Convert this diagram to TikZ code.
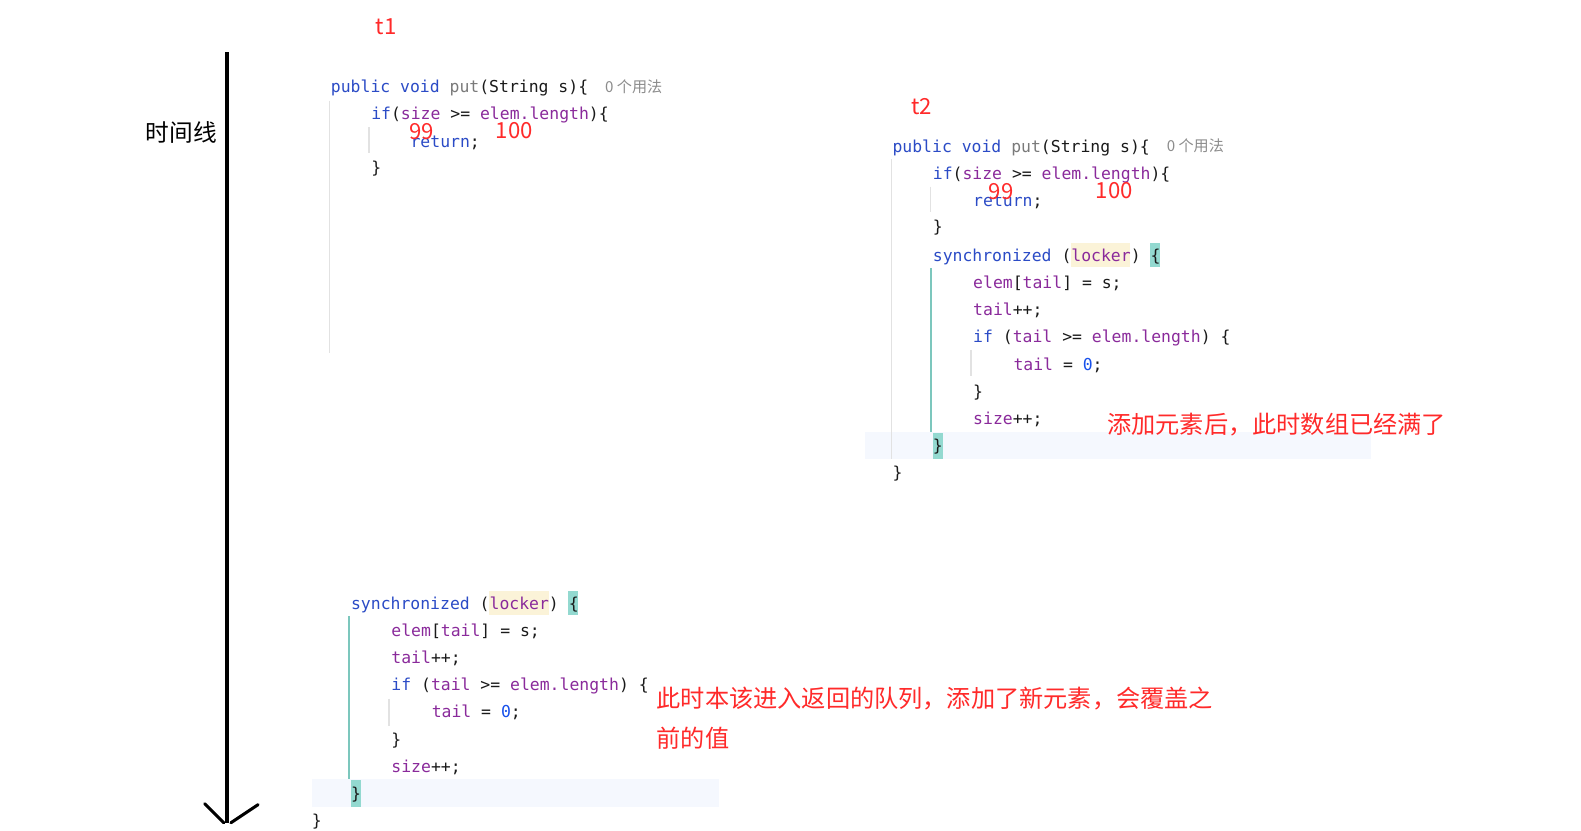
\documentclass[tikz,border=0pt]{standalone}
\usepackage{fontspec}
\newfontfamily\cjk{Noto Sans CJK SC}
\newfontfamily\codefont{DejaVu Sans Mono}
\definecolor{kwc}{HTML}{2B4BC6}
\definecolor{fdc}{HTML}{8A2A9B}
\definecolor{txc}{HTML}{1A1A1A}
\definecolor{gyc}{HTML}{7A7A7A}
\definecolor{nmc}{HTML}{1750EB}
\definecolor{cmc}{HTML}{8C8C8C}
\definecolor{lockbg}{HTML}{FBF3D8}
\definecolor{bracebg}{HTML}{93D9D0}
\definecolor{rowbg}{HTML}{F5F8FE}
\definecolor{tealguide}{HTML}{7CC7BD}
\definecolor{grayguide}{HTML}{E2E2E2}
\definecolor{redc}{HTML}{FF2A2A}
\newcommand\kwd[1]{\textcolor{kwc}{#1}}
\newcommand\fld[1]{\textcolor{fdc}{#1}}
\newcommand\gry[1]{\textcolor{gyc}{#1}}
\newcommand\num[1]{\textcolor{nmc}{#1}}
\tikzset{
  code/.style={inner sep=0pt, anchor=base west, text=txc, font=\codefont\fontsize{16.3}{20}\selectfont},
  usage/.style={inner sep=0pt, anchor=base west, text=cmc, font=\cjk\fontsize{15}{17}\selectfont},
  redtxt/.style={inner sep=0pt, text=redc, font=\cjk\fontsize{22}{26}\selectfont},
  note/.style={inner sep=0pt, anchor=west, text=redc, font=\cjk\fontsize{24}{28}\selectfont},
  gguide/.style={draw=grayguide, line width=1.5pt},
  tguide/.style={draw=tealguide, line width=2pt},
}
\begin{document}
\begin{tikzpicture}[x=1pt,y=-1pt]
\useasboundingbox (0,0) rectangle (1568,824);
\fill[white] (0,0) rectangle (1568,824);

% ---------- time line ----------
\draw[line width=3.5pt, black] (225,52) -- (225,816);
\draw[line width=3pt, black, line cap=round] (203,797) -- (222,816);
\draw[line width=3pt, black, line cap=round] (256,798) -- (229,816);
\node[inner sep=0pt, text=black, font=\cjk\fontsize{23.5}{27}\selectfont] (timelabel) at (180,131) {时间线};

% ---------- t1 ----------
\node[redtxt] (t1) at (383,27) {t1};
\draw[gguide] (327,100) -- (327,350);
\draw[gguide] (366,126) -- (366,152);
\node[code] (a1) at (328,92) {\kwd{public void} \gry{put}(String s)\{};
\node[usage] (a1u) at (600,91.5) {0 个用法};
\node[code] (a2) at (368,119) {\kwd{if}(\fld{size} >= \fld{elem.length})\{};
\node[code] (a3) at (407,146) {\kwd{return};};
\node[code] (a4) at (368,172) {\}};
\node[redtxt] (n99a) at (418,131) {99};
\node[redtxt] (n100a) at (510,130) {100};

% ---------- t2 ----------
\node[redtxt] (t2) at (914,106) {t2};
\fill[rowbg] (858,428) rectangle (1360,455);
\fill[lockbg] (1062,241) rectangle (1121,265);
\fill[bracebg] (1140.6,241) rectangle (1150.6,265);
\fill[bracebg] (925,429) rectangle (935,455);
\draw[gguide] (884,158) -- (884,455);
\draw[gguide] (923,185) -- (923,210);
\draw[tguide] (923,266) -- (923,428);
\draw[gguide] (963,347) -- (963,373);
\node[code] (b1) at (885,151) {\kwd{public void} \gry{put}(String s)\{};
\node[usage] (b1u) at (1157,150.5) {0 个用法};
\node[code] (b2) at (925,178) {\kwd{if}(\fld{size} >= \fld{elem.length})\{};
\node[code] (b3) at (965,205) {\kwd{return};};
\node[code] (b4) at (925,231) {\}};
\node[code] (b5) at (925,259) {\kwd{synchronized} (\fld{locker}) \{};
\node[code] (b6) at (965,286) {\fld{elem}[\fld{tail}] = s;};
\node[code] (b7) at (965,313) {\fld{tail}++;};
\node[code] (b8) at (965,340) {\kwd{if} (\fld{tail} >= \fld{elem.length}) \{};
\node[code] (b9) at (1005,367) {\fld{tail} = \num{0};};
\node[code] (b10) at (965,394) {\}};
\node[code] (b11) at (965,421) {\fld{size}++;};
\node[code] (b12) at (925,448) {\}};
\node[code] (b13) at (885,475) {\}};
\node[redtxt] (n99b) at (993,190) {99};
\node[redtxt] (n100b) at (1105,189) {100};
\node[note] (noteb) at (1098,421) {添加元素后，此时数组已经满了};

% ---------- t1 continued ----------
\fill[rowbg] (309,773) rectangle (713,800);
\fill[lockbg] (485,586) rectangle (544,610);
\fill[bracebg] (563.6,586) rectangle (573.6,610);
\fill[bracebg] (348,774) rectangle (358,800);
\draw[tguide] (346,611) -- (346,773);
\draw[gguide] (386,693) -- (386,720);
\node[code] (c1) at (348,604) {\kwd{synchronized} (\fld{locker}) \{};
\node[code] (c2) at (388,631) {\fld{elem}[\fld{tail}] = s;};
\node[code] (c3) at (388,658) {\fld{tail}++;};
\node[code] (c4) at (388,685) {\kwd{if} (\fld{tail} >= \fld{elem.length}) \{};
\node[code] (c5) at (428,712) {\fld{tail} = \num{0};};
\node[code] (c6) at (388,739) {\}};
\node[code] (c7) at (388,766) {\fld{size}++;};
\node[code] (c8) at (348,793) {\}};
\node[code] (c9) at (309,820) {\}};
\node[note] (notec1) at (651,693) {此时本该进入返回的队列，添加了新元素，会覆盖之};
\node[note] (notec2) at (651,732) {前的值};
\end{tikzpicture}
\end{document}
